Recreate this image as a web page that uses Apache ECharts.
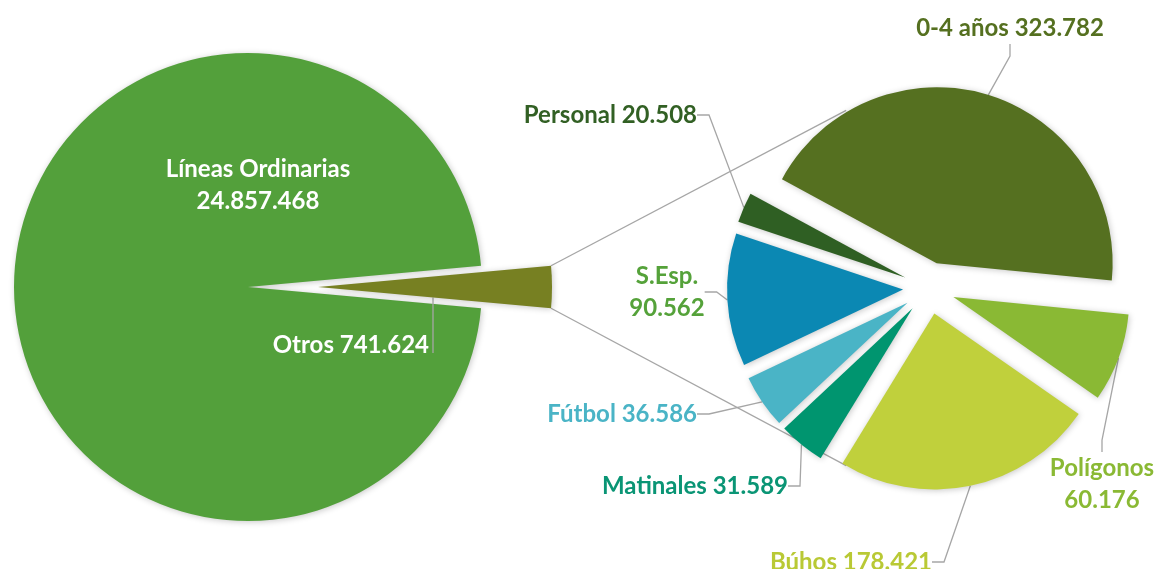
<!DOCTYPE html>
<html>
<head>
<meta charset="utf-8">
<script src="https://cdn.jsdelivr.net/npm/echarts@6/dist/echarts.min.js"></script>
<style>
  html, body { margin: 0; padding: 0; background: #fff; }
  #chart { width: 1159px; height: 569px; }
</style>
</head>
<body>
<div id="chart"></div>
<script>
// data
const mainNames = ['Otros', 'Líneas Ordinarias'];
const mainValues = [741624, 24857468];
const detailNames = ['0-4 años', 'Polígonos', 'Búhos', 'Matinales', 'Fútbol', 'S.Esp.', 'Personal'];
const detailValues = [323782, 60176, 178421, 31589, 36586, 90562, 20508];

// styles
const mainColors = ['#778022', '#53a03b'];
const mainLabelColors = ['#fff', '#fff'];
const detailColors = ['#557020', '#8ab934', '#c0d03c', '#00956f', '#4ab4c6', '#0b88b3', '#2f5f23'];
const detailLabelColors = ['#557020', '#8ab934', '#b9c935', '#0a9575', '#4ab4c6', '#55a23a', '#326024'];
const mainWrap = [false, true];
const detailWrap = [false, true, false, false, false, true, false];
const mainExplode = [70, 0];
const detailExplode = [26, 26, 26, 26, 26, 26, 26];

// label placement (x, y, align)
const mainLabelPos = [
  {x: 429, y: 345, align: 'right'},
  {x: 258, y: 185, align: 'center'}
];
const detailLabelPos = [
  {x: 1010, y: 28, align: 'center'},
  {x: 1102, y: 484, align: 'center'},
  {x: 932, y: 562, align: 'right'},
  {x: 788, y: 486, align: 'right'},
  {x: 697, y: 414, align: 'right'},
  {x: 667, y: 292, align: 'center'},
  {x: 697, y: 115, align: 'right'}
];

const L = {cx: 248, cy: 287, r: 234};
const R = {cx: 929, cy: 288, r: 176, start: 151.5};

const fmt = v => String(v).replace(/\B(?=(\d{3})+(?!\d))/g, '.');
const font = {fontFamily: 'Lato', fontWeight: 'bold', fontSize: 24, lineHeight: 32};
const leader = {color: '#a6a6a6', width: 1.3};
const shadow = {shadowBlur: 6, shadowColor: 'rgba(0,0,0,0.22)', shadowOffsetX: 1, shadowOffsetY: 1};
const RAD = Math.PI / 180;

const mainTotal = mainValues.reduce((a, b) => a + b, 0);
const halfDeg = mainValues[0] / mainTotal * 180;        // half angle of "Otros"

// one pie series per slice so each can be pulled out along its own mid angle
function slices(names, values, start, geo, explode, colors, labelColors, wrap, labelPos, lineFn) {
  const total = values.reduce((a, b) => a + b, 0);
  let acc = 0;
  return values.map((v, i) => {
    const a0 = start - acc / total * 360;
    acc += v;
    const a1 = start - acc / total * 360;
    const mid = (a0 + a1) / 2 * RAD;
    const cx = geo.cx + explode[i] * Math.cos(mid);
    const cy = geo.cy - explode[i] * Math.sin(mid);
    const pos = labelPos[i];
    return {
      type: 'pie',
      silent: true,
      center: [cx, cy],
      radius: geo.r,
      startAngle: a0,
      endAngle: a1,
      clockwise: true,
      avoidLabelOverlap: false,
      itemStyle: Object.assign({color: colors[i]}, shadow),
      label: Object.assign({
        color: labelColors[i],
        formatter: p => p.name + (wrap[i] ? '\n' : ' ') + fmt(p.value)
      }, font),
      labelLine: {show: true, length: 10, length2: 12, lineStyle: leader},
      labelLayout: function () {
        const out = {x: pos.x, y: pos.y, align: pos.align, verticalAlign: 'middle'};
        if (lineFn) {
          const pts = lineFn(i, pos, cx, cy, a0, a1);
          if (pts) out.labelLinePoints = pts;
        }
        return out;
      },
      data: [{name: names[i], value: v}]
    };
  });
}

const mainSeries = slices(mainNames, mainValues, halfDeg, L, mainExplode, mainColors, mainLabelColors,
  mainWrap, mainLabelPos, function (i, pos, cx, cy, a0, a1) {
    if (i !== 0) return [[0, 0], [0, 0]];
    // vertical leader from the lower edge of "Otros" down to its label
    const lx = pos.x + 4;
    const ly = cy + (lx - cx) * Math.tan(-a1 * RAD);
    return [[lx, ly], [lx, pos.y + 8]];
  });
mainSeries[1].labelLine.show = false;
mainSeries[0].z = 3;   // keep the "Otros" leader above the big slice

const detailSeries = slices(detailNames, detailValues, R.start, R, detailExplode, detailColors, detailLabelColors,
  detailWrap, detailLabelPos, null);

// connector lines between the two pies
const otrosCx = L.cx + mainExplode[0];
const h = halfDeg * RAD;
const x0 = otrosCx + L.r * Math.cos(h);
const a2 = 115 * RAD;
const r2 = R.r + 20;
const x1 = R.cx + r2 * Math.cos(a2);

const myChart = echarts.init(document.getElementById('chart'));
myChart.setOption({
  animation: false,
  backgroundColor: '#fff',
  graphic: [
    {type: 'line', z: 0, shape: {x1: x0, y1: L.cy - L.r * Math.sin(h), x2: x1, y2: R.cy - r2 * Math.sin(a2)},
      style: {stroke: '#a6a6a6', lineWidth: 1.3}},
    {type: 'line', z: 0, shape: {x1: x0, y1: L.cy + L.r * Math.sin(h), x2: x1, y2: R.cy + r2 * Math.sin(a2)},
      style: {stroke: '#a6a6a6', lineWidth: 1.3}}
  ],
  series: mainSeries.concat(detailSeries)
});
</script>
</body>
</html>
